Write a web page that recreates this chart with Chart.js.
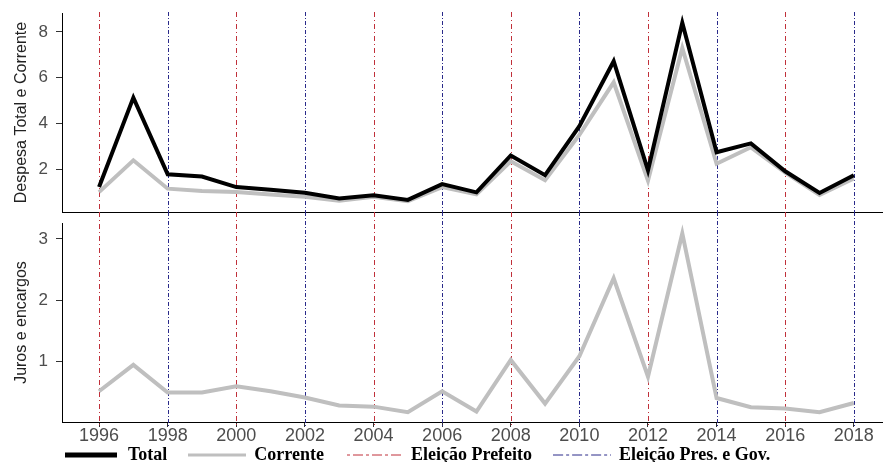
<!DOCTYPE html>
<html>
<head>
<meta charset="utf-8">
<script src="https://cdn.jsdelivr.net/npm/chart.js@4.4.1/dist/chart.umd.min.js"></script>
<style>
  html, body { margin: 0; padding: 0; background: #ffffff; }
  #wrap { position: relative; width: 883px; height: 462px; overflow: hidden; }
  #topChart { position: absolute; left: 0; top: 0; }
  #bottomChart { position: absolute; left: 0; top: 212px; }
</style>
</head>
<body>
<div id="wrap">
  <canvas id="topChart" width="883" height="222"></canvas>
  <canvas id="bottomChart" width="883" height="282"></canvas>
</div>
<script>
// Data
const years = [1996, 1997, 1998, 1999, 2000, 2001, 2002, 2003, 2004, 2005, 2006, 2007,
               2008, 2009, 2010, 2011, 2012, 2013, 2014, 2015, 2016, 2017, 2018];
const despesaTotal = [1.22, 5.13, 1.78, 1.68, 1.22, 1.1, 0.97, 0.72, 0.86, 0.66, 1.35, 0.99,
                      2.6, 1.74, 3.88, 6.72, 1.95, 8.4, 2.74, 3.13, 1.91, 0.96, 1.74];
const despesaCorrente = [1.0, 2.39, 1.15, 1.05, 1.0, 0.9, 0.8, 0.62, 0.8, 0.6, 1.22, 0.9,
                         2.35, 1.52, 3.5, 5.8, 1.5, 7.3, 2.24, 2.96, 1.85, 0.87, 1.6];
const juros = [0.52, 0.95, 0.5, 0.5, 0.6, 0.52, 0.42, 0.29, 0.27, 0.18, 0.52, 0.19,
               1.03, 0.32, 1.09, 2.36, 0.76, 3.09, 0.41, 0.26, 0.24, 0.18, 0.33];

const eleicaoPrefeito = [1996, 2000, 2004, 2008, 2012, 2016];
const eleicaoPresGov = [1998, 2002, 2006, 2010, 2014, 2018];

const xTickLabels = [1996, 1998, 2000, 2002, 2004, 2006, 2008, 2010, 2012, 2014, 2016, 2018];
const topTicks = [2, 4, 6, 8];
const bottomTicks = [1, 2, 3];
const legendLabels = ['Total', 'Corrente', 'Eleição Prefeito', 'Eleição Pres. e Gov.'];

const BLACK = '#000000';
const GREY = '#bfbfbf';
const RED = '#c0303a';
const BLUE = '#2a2a8a';
const RED_DASH = [5, 3, 1, 3];
const BLUE_DASH = [4, 2, 1, 2];
const SANS = 'Liberation Sans, Arial, sans-serif';
const TICK_COLOR = '#4d4d4d';
const LEGEND_PAD = 22;

function toPoints(values) {
    return years.map((y, i) => ({ x: y, y: values[i] }));
}

// small canvas used as the legend key for one series
function legendSwatch(color, width, dash, len) {
    const c = document.createElement('canvas');
    c.width = len;
    c.height = 8;
    const g = c.getContext('2d');
    g.strokeStyle = color;
    g.lineWidth = width;
    g.setLineDash(dash);
    g.beginPath();
    g.moveTo(0, 4);
    g.lineTo(len, 4);
    g.stroke();
    return c;
}

// Vertical election lines, drawn through the panel and into the gap
function electionLines(fromCanvasTop) {
    return {
        id: 'electionLines',
        beforeDatasetsDraw(chart) {
            const ctx = chart.ctx;
            const xs = chart.scales.x;
            const top = fromCanvasTop ? 0 : chart.chartArea.top - 1;
            const bottom = fromCanvasTop ? chart.chartArea.bottom + 6 : chart.chartArea.bottom;
            const groups = [
                { years: eleicaoPrefeito, color: RED, dash: RED_DASH },
                { years: eleicaoPresGov, color: BLUE, dash: BLUE_DASH }
            ];
            ctx.save();
            ctx.lineWidth = 1;
            groups.forEach(g => {
                ctx.strokeStyle = g.color;
                ctx.setLineDash(g.dash);
                g.years.forEach(yr => {
                    const px = Math.round(xs.getPixelForValue(yr)) + 0.5;
                    ctx.beginPath();
                    ctx.moveTo(px, top);
                    ctx.lineTo(px, bottom);
                    ctx.stroke();
                });
            });
            ctx.restore();
        }
    };
}

function yScale(min, max, ticks, title) {
    return {
        min: min,
        max: max,
        afterFit: s => {
            s.width = 62;
            // keep the plot area where it is in the reference
            s.paddingTop = 0;
            s.paddingBottom = 0;
        },
        afterBuildTicks: s => { s.ticks = ticks.map(v => ({ value: v })); },
        ticks: { font: { family: SANS, size: 17 }, color: TICK_COLOR, padding: 8 },
        grid: { display: true, drawOnChartArea: false, tickLength: 6, color: '#333333' },
        border: { display: true, color: BLACK, width: 1 },
        title: {
            display: true,
            text: title,
            font: { family: SANS, size: 16 },
            color: '#222222',
            padding: { top: 12, bottom: 0 }
        }
    };
}

const xMin = 1994.92;
const xMax = 2018.85;

new Chart(document.getElementById('topChart'), {
    type: 'line',
    data: {
        datasets: [
            { label: 'Total', data: toPoints(despesaTotal), borderColor: BLACK, borderWidth: 4, pointRadius: 0, tension: 0 },
            { label: 'Corrente', data: toPoints(despesaCorrente), borderColor: GREY, borderWidth: 4, pointRadius: 0, tension: 0 }
        ]
    },
    options: {
        responsive: false,
        animation: false,
        layout: { padding: { top: 13, right: 0, bottom: 0, left: 0 } },
        plugins: { legend: { display: false }, tooltip: { enabled: false } },
        scales: {
            x: {
                type: 'linear',
                min: xMin,
                max: xMax,
                afterFit: s => { s.height = 10; },
                ticks: { display: false },
                grid: { display: false },
                border: { display: true, color: BLACK, width: 1 }
            },
            y: yScale(0.13, 8.83, topTicks, 'Despesa Total e Corrente')
        }
    },
    plugins: [electionLines(false)]
});

// move the legend box to where the reference has it (first key starts at x=63)
const legendPlacer = {
    id: 'legendPlacer',
    afterLayout(chart) {
        const lg = chart.legend;
        const dx = (63 - LEGEND_PAD) - lg.left;
        const dy = (243 - LEGEND_PAD - 9) - lg.top;
        lg.left += dx; lg.right += dx;
        lg.top += dy; lg.bottom += dy;
    }
};

const legendKeys = [
    legendSwatch(BLACK, 5, [], 52),
    legendSwatch(GREY, 3, [], 58),
    legendSwatch(RED, 1, [3, 3, 10, 3], 54),
    legendSwatch(BLUE, 1, [10, 3, 3, 3], 58)
];

new Chart(document.getElementById('bottomChart'), {
    type: 'line',
    data: {
        datasets: [
            { label: 'Juros', data: toPoints(juros), borderColor: GREY, borderWidth: 4, pointRadius: 0, tension: 0 }
        ]
    },
    options: {
        responsive: false,
        animation: false,
        layout: { padding: { top: 11, right: 0, bottom: 0, left: 0 } },
        plugins: {
            tooltip: { enabled: false },
            legend: {
                position: 'bottom',
                align: 'start',
                labels: {
                    usePointStyle: true,
                    pointStyleWidth: 56,
                    boxHeight: 18,
                    padding: LEGEND_PAD,
                    color: BLACK,
                    font: { family: 'Liberation Serif, Times New Roman, serif', size: 18, weight: 'bold' },
                    generateLabels: () => legendLabels.map((text, i) => ({
                        text: text,
                        fillStyle: 'transparent',
                        strokeStyle: 'transparent',
                        lineWidth: 0,
                        pointStyle: legendKeys[i],
                        fontColor: BLACK,
                        hidden: false,
                        datasetIndex: i
                    }))
                }
            }
        },
        scales: {
            x: {
                type: 'linear',
                min: xMin,
                max: xMax,
                afterFit: s => { s.height = 22; },
                afterBuildTicks: s => { s.ticks = xTickLabels.map(v => ({ value: v })); },
                ticks: { font: { family: SANS, size: 18 }, color: TICK_COLOR, padding: -2, maxRotation: 0, callback: v => String(v) },
                grid: { display: true, drawOnChartArea: false, tickLength: 5, color: '#333333' },
                border: { display: true, color: BLACK, width: 1 }
            },
            y: yScale(0.02, 3.26, bottomTicks, 'Juros e encargos')
        }
    },
    plugins: [electionLines(true), legendPlacer]
});
</script>
</body>
</html>
